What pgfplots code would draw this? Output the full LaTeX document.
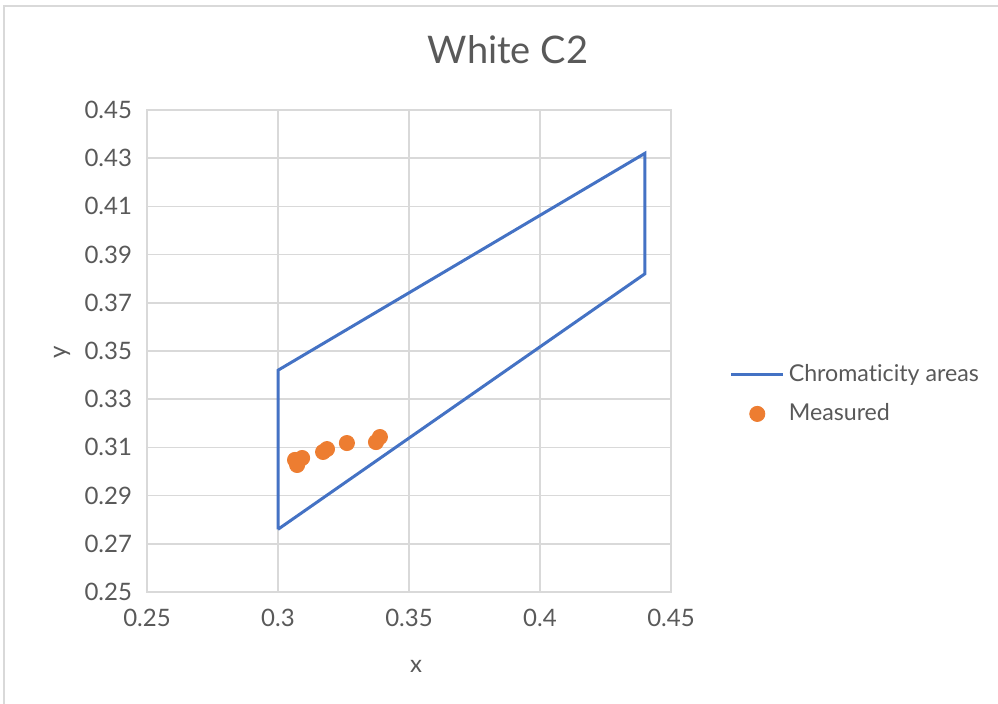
\documentclass[border=0pt]{standalone}
\usepackage{pgfplots}
\pgfplotsset{compat=1.18}
\usepackage{fontspec}
\setmainfont{Lato}[Ligatures={NoCommon}]
\definecolor{txt}{HTML}{595959}
\definecolor{gridc}{HTML}{D9D9D9}
\definecolor{xlblue}{HTML}{4472C4}
\definecolor{xlorange}{HTML}{ED7D31}

\begin{document}
\begin{tikzpicture}[x=0.5pt,y=0.5pt]
\useasboundingbox (0,0) rectangle (998,704);
% chart frame
\draw[gridc, line width=0.8pt] (4,0) -- (4,698) -- (998,698);
\node[txt, font=\fontsize{19}{22}\selectfont] at (508,654) {White C2};
\node[txt, font=\fontsize{12}{14}\selectfont] at (416,38) {x};
\node[txt, font=\fontsize{12}{14}\selectfont, rotate=90] at (62,352) {y};
\begin{axis}[
	at={(73.5pt,56pt)}, anchor=south west,
	scale only axis, width=262pt, height=241pt,
	xmin=0.25, xmax=0.45, ymin=0.25, ymax=0.45,
	xtick={0.25,0.3,0.35,0.4,0.45},
	ytick={0.25,0.27,0.29,0.31,0.33,0.35,0.37,0.39,0.41,0.43,0.45},
	yticklabel style={/pgf/number format/.cd, fixed, fixed zerofill, precision=2},
	xticklabel style={/pgf/number format/.cd, fixed, precision=2},
	/pgf/number format/assume math mode=true,
	tick label style={txt, font=\fontsize{12}{14}\selectfont},
	major tick length=0pt,
	xtick pos=bottom, ytick pos=left,
	grid=major, grid style={gridc, line width=0.8pt},
	axis line style={gridc, line width=0.8pt},
	xticklabel shift=5pt, yticklabel shift=4pt,
	clip=false,
	legend style={at={(1.10,0.41)}, anchor=west, draw=none, fill=none,
		font=\fontsize{11.6}{14}\selectfont, text=txt, row sep=5.5pt},
	legend cell align=left,
]
\addplot[xlblue, line width=1.5pt, legend image code/.code={\draw[xlblue, line width=1.5pt] (0pt,0pt) -- (26pt,0pt);}] coordinates {
(0.30,0.276) (0.30,0.342) (0.44,0.432) (0.44,0.382) (0.30,0.276)
};
\addlegendentry{Chromaticity areas}
\addplot[only marks, mark=*, mark size=3.8pt, xlblue, mark options={draw=xlorange, fill=xlorange},
	legend image code/.code={\fill[xlorange] (13pt,0pt) circle (3.8pt);}] table {
x y
0.3065 0.3048
0.3073 0.3027
0.3092 0.3056
0.3172 0.3081
0.3187 0.3093
0.3263 0.3118
0.3374 0.3122
0.3389 0.3143
};
\addlegendentry{Measured}
\end{axis}
\end{tikzpicture}
\end{document}
